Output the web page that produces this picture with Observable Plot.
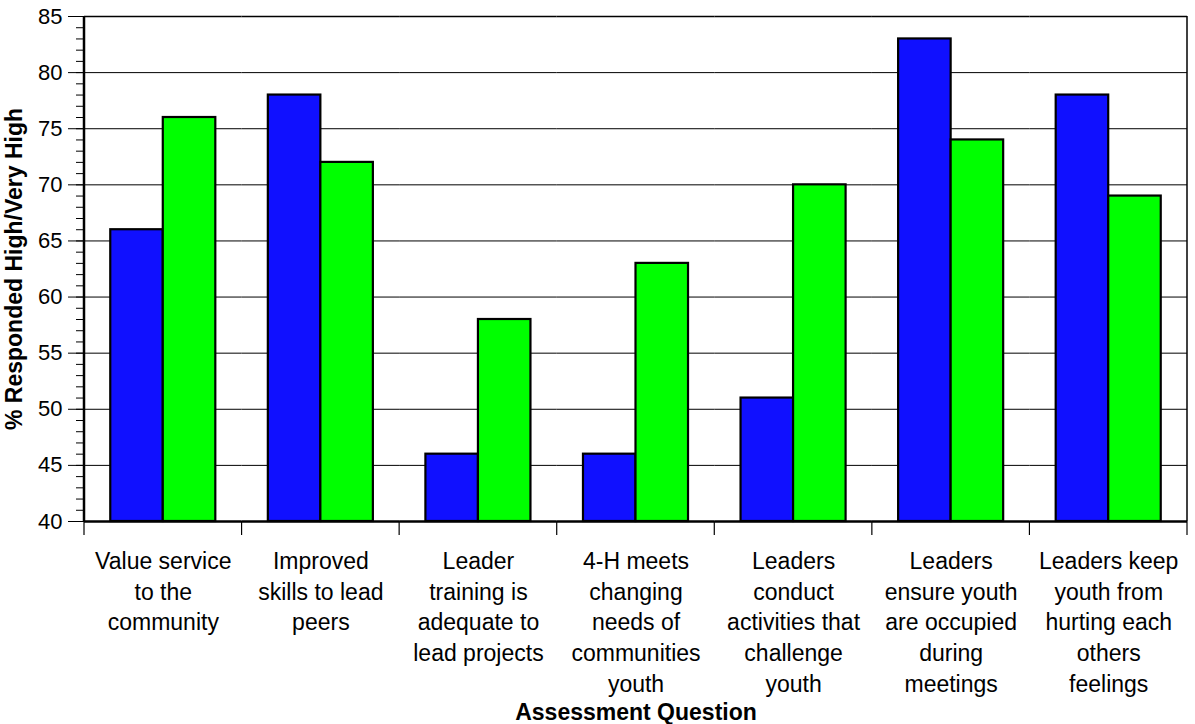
<!DOCTYPE html>
<html>
<head>
<meta charset="utf-8">
<script src="https://cdn.jsdelivr.net/npm/d3@7"></script>
<script src="https://cdn.jsdelivr.net/npm/@observablehq/plot@0.6"></script>
<style>
  html, body { margin: 0; padding: 0; background: #ffffff; }
  #chart svg { display: block; }
  #chart g[aria-label="y-axis label"] text,
  #chart g[aria-label="fx-axis label"] text { font-weight: bold; font-size: 23px; }
</style>
</head>
<body>
<div id="chart"></div>
<script>
// ---- data ----
const categories = [
  "Value service to the community",
  "Improved skills to lead peers",
  "Leader training is adequate to lead projects",
  "4-H meets changing needs of communities youth",
  "Leaders conduct activities that challenge youth",
  "Leaders ensure youth are occupied during meetings",
  "Leaders keep youth from hurting each others feelings"
];
const categoryLabels = [
  "Value service\nto the\ncommunity",
  "Improved\nskills to lead\npeers",
  "Leader\ntraining is\nadequate to\nlead projects",
  "4-H meets\nchanging\nneeds of\ncommunities\nyouth",
  "Leaders\nconduct\nactivities that\nchallenge\nyouth",
  "Leaders\nensure youth\nare occupied\nduring\nmeetings",
  "Leaders keep\nyouth from\nhurting each\nothers\nfeelings"
];
const seriesNames = ["Series 1", "Series 2"];
const series1Values = [66, 78, 46, 46, 51, 83, 78];
const series2Values = [76, 72, 58, 63, 70, 74, 69];
const seriesColors = ["#1010ff", "#00ff00"];
const yMin = 40, yMax = 85;
const yMajorTicks = [40, 45, 50, 55, 60, 65, 70, 75, 80, 85];
const yGridTicks = [45, 50, 55, 60, 65, 70, 75, 80];
const yMinorTicks = d3.range(yMin, yMax + 1, 1);
const yTitle = "% Responded High/Very High";
const xTitle = "Assessment Question";

const rows = categories.flatMap((c, i) => [
  {category: c, series: seriesNames[0], value: series1Values[i]},
  {category: c, series: seriesNames[1], value: series2Values[i]}
]);

const plot = Plot.plot({
  width: 1195,
  height: 724,
  marginLeft: 84,
  marginRight: 8,
  marginTop: 16,
  marginBottom: 203,
  style: {fontFamily: "'Liberation Sans', Arial, sans-serif", fontSize: "22px", color: "#000", background: "#fff"},
  fx: {domain: categories, padding: 0, round: false, axis: null},
  x: {domain: seriesNames, paddingInner: 0, paddingOuter: 0.5, round: false, axis: null},
  y: {domain: [yMin, yMax], axis: null},
  color: {domain: seriesNames, range: seriesColors},
  marks: [
    Plot.ruleY(yGridTicks, {stroke: "#000", strokeWidth: 1}),
    Plot.barY(rows, {fx: "category", x: "series", y1: yMin, y2: "value", fill: "series", stroke: "#000", strokeWidth: 2.2}),
    Plot.ruleY([yMax], {stroke: "#000", strokeWidth: 1.5}),
    Plot.ruleY([yMin], {stroke: "#000", strokeWidth: 2.5}),
    Plot.axisY(yMinorTicks, {tickSize: 8, text: null, label: null, stroke: "#000"}),
    Plot.axisY(yMajorTicks, {
      tickSize: 16, tickPadding: 6, fontSize: 22, stroke: "#000", fill: "#000",
      label: yTitle, labelAnchor: "center", labelOffset: 79, labelArrow: "none"
    }),
    Plot.text(categories, {
      fx: d => d,
      text: (d, i) => categoryLabels[i],
      frameAnchor: "bottom",
      lineAnchor: "top",
      dy: 26,
      fontSize: 23,
      lineHeight: 1.33,
      fill: "#000"
    }),
    Plot.axisFx({anchor: "bottom", tickSize: 0, text: null, label: xTitle, labelAnchor: "center", labelOffset: 198, labelArrow: "none", fill: "#000"})
  ]
});

document.getElementById("chart").appendChild(plot);

// category boundary ticks and side borders, placed through Plot's own scales
const svgEl = plot.tagName.toLowerCase() === "svg" ? plot : plot.querySelector("svg");
const fx = plot.scale("fx");
const y = plot.scale("y");
const edges = categories.map(c => fx.apply(c)).concat([fx.apply(categories[categories.length - 1]) + fx.bandwidth]);
const g = d3.select(svgEl).append("g").attr("stroke", "#000");
g.selectAll("line.tick").data(edges).join("line")
  .attr("x1", d => d).attr("x2", d => d)
  .attr("y1", y.apply(yMin)).attr("y2", y.apply(yMin) + 14)
  .attr("stroke-width", 1.2);
g.append("line")
  .attr("x1", edges[0]).attr("x2", edges[0])
  .attr("y1", y.apply(yMax)).attr("y2", y.apply(yMin) + 1)
  .attr("stroke-width", 2.5);
g.append("line")
  .attr("x1", edges[edges.length - 1]).attr("x2", edges[edges.length - 1])
  .attr("y1", y.apply(yMax)).attr("y2", y.apply(yMin))
  .attr("stroke-width", 1.5);
</script>
</body>
</html>
